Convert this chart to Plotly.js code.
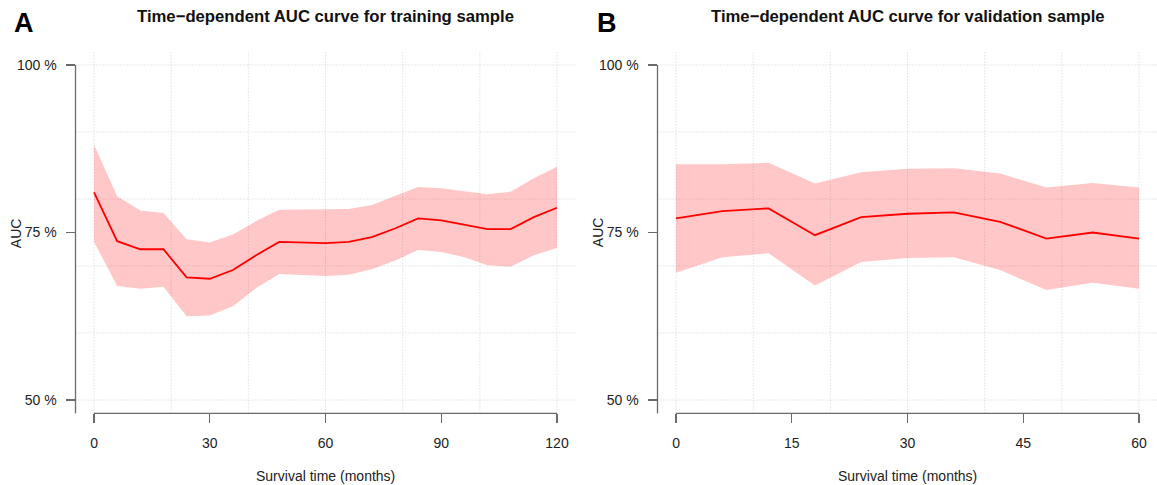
<!DOCTYPE html>
<html>
<head>
<meta charset="utf-8">
<script src="https://cdn.plot.ly/plotly-3.0.1.min.js"></script>
<style>html,body{margin:0;padding:0;background:#fff;}#chart{width:1157px;height:485px;}</style>
</head>
<body>
<div id="chart"></div>
<script>
// ---- data ----
const trainTime  = [0, 6, 12, 18, 24, 30, 36, 42, 48, 54, 60, 66, 72, 78, 84, 90, 96, 102, 108, 114, 120];
const trainAUC   = [81.0, 73.7, 72.5, 72.5, 68.3, 68.1, 69.4, 71.6, 73.6, 73.5, 73.4, 73.6, 74.3, 75.6, 77.1, 76.8, 76.2, 75.5, 75.5, 77.3, 78.7];
const trainUpper = [88.1, 80.4, 78.3, 77.9, 74.0, 73.5, 74.7, 76.7, 78.4, 78.4, 78.4, 78.5, 79.1, 80.5, 81.8, 81.6, 81.2, 80.7, 81.1, 83.1, 84.8];
const trainLower = [73.6, 67.0, 66.6, 66.9, 62.5, 62.6, 64.0, 66.7, 68.8, 68.6, 68.5, 68.7, 69.5, 70.8, 72.4, 72.1, 71.3, 70.1, 69.9, 71.6, 72.7];

const valTime  = [0, 6, 12, 18, 24, 30, 36, 42, 48, 54, 60];
const valAUC   = [77.1, 78.2, 78.6, 74.6, 77.3, 77.8, 78.0, 76.6, 74.1, 75.0, 74.1];
const valUpper = [85.2, 85.2, 85.4, 82.3, 84.0, 84.5, 84.6, 83.8, 81.7, 82.4, 81.7];
const valLower = [69.0, 71.3, 71.9, 67.1, 70.6, 71.2, 71.3, 69.4, 66.4, 67.5, 66.6];

const trainXTicks = [0, 30, 60, 90, 120];
const valXTicks   = [0, 15, 30, 45, 60];
const yTickVals   = [50, 75, 100];
const yTickText   = ['50 %', '75 %', '100 %'];
const trainXGrid  = [0, 20, 40, 60, 80, 100, 120];
const valXGrid    = [0, 10, 20, 30, 40, 50, 60];
const yGrid       = [50, 60, 70, 80, 90, 100];

const titles = ['Time\u2212dependent AUC curve for training sample',
                'Time\u2212dependent AUC curve for validation sample'];
const panelLetters = ['A', 'B'];
const xTitle = 'Survival time (months)';
const yTitle = 'AUC';

// ---- styling ----
const W = 1157, H = 485;
const FONT = 'Liberation Sans, Arial, Helvetica, sans-serif';
const BAND = 'rgba(255,0,0,0.22)';
const LINE = '#FF0000';
const AXC = '#6a6a6a';
const GRIDC = '#d3d3d3';
const TXT = '#222222';

const yRange = [48, 102];
const yDom = [1 - 413.4 / H, 1 - 51.6 / H];
const xDomA = [75.5 / W, 575.5 / W];
const xDomB = [657.5 / W, 1];

function bandTraces(x, lo, hi, mid, xa, ya) {
  return [
    {x: x, y: lo, xaxis: xa, yaxis: ya, type: 'scatter', mode: 'lines',
     line: {width: 0, color: BAND}, hoverinfo: 'skip', showlegend: false},
    {x: x, y: hi, xaxis: xa, yaxis: ya, type: 'scatter', mode: 'lines', fill: 'tonexty',
     fillcolor: BAND, line: {width: 0, color: BAND}, hoverinfo: 'skip', showlegend: false},
    {x: x, y: mid, xaxis: xa, yaxis: ya, type: 'scatter', mode: 'lines',
     line: {width: 1.8, color: LINE}, showlegend: false}
  ];
}

const data = [].concat(
  bandTraces(trainTime, trainLower, trainUpper, trainAUC, 'x', 'y'),
  bandTraces(valTime, valLower, valUpper, valAUC, 'x2', 'y2')
);

function xAxis(dom, range, ticks, anchor) {
  return {domain: dom, range: range, anchor: anchor, tickvals: ticks,
    ticks: 'outside', ticklen: 9, tickwidth: 1.3, tickcolor: AXC,
    ticklabelstandoff: 8,
    tickfont: {family: FONT, size: 14, color: TXT},
    showgrid: false, zeroline: false, showline: false, fixedrange: true};
}
function yAxis(anchor) {
  return {domain: yDom, range: yRange, anchor: anchor, tickvals: yTickVals, ticktext: yTickText,
    ticks: 'outside', ticklen: 9, tickwidth: 1.3, tickcolor: AXC,
    ticklabelstandoff: 6,
    tickfont: {family: FONT, size: 14, color: TXT},
    showgrid: false, zeroline: false, showline: false, fixedrange: true};
}

const xMaxB = -2.4 + (W - 657.5) / (463 / 60);

const shapes = [];
function addGrid(xa, ya, xg) {
  yGrid.forEach(v => shapes.push({type: 'line', layer: 'below', xref: xa + ' domain', yref: ya,
    x0: 0, x1: 1, y0: v, y1: v, line: {color: GRIDC, width: 1, dash: '1px,2px'}}));
  xg.forEach(v => shapes.push({type: 'line', layer: 'below', xref: xa, yref: ya + ' domain',
    x0: v, x1: v, y0: 0, y1: 1, line: {color: GRIDC, width: 1, dash: '1px,2px'}}));
}
function addAxisLines(xa, ya, xt) {
  shapes.push({type: 'line', layer: 'above', xref: xa, yref: ya + ' domain',
    x0: xt[0], x1: xt[xt.length - 1], y0: 0, y1: 0, line: {color: AXC, width: 1.3}});
  shapes.push({type: 'line', layer: 'above', xref: xa + ' domain', yref: ya,
    x0: 0, x1: 0, y0: yRange[0], y1: yTickVals[yTickVals.length - 1], line: {color: AXC, width: 1.3}});
}
addGrid('x', 'y', trainXGrid);
addGrid('x2', 'y2', valXGrid);
addAxisLines('x', 'y', trainXTicks);
addAxisLines('x2', 'y2', valXTicks);

const centers = [(xDomA[0] + xDomA[1]) / 2, (657.5 + 1157.5) / 2 / W];
const axisLeft = [xDomA[0], xDomB[0]];
const annotations = [];
for (let i = 0; i < 2; i++) {
  annotations.push({text: titles[i], xref: 'paper', yref: 'paper', x: centers[i], y: 1 - 16.7 / H,
    xanchor: 'center', yanchor: 'middle', showarrow: false,
    font: {family: FONT, size: 16.7, color: '#111', weight: 'bold'}});
  annotations.push({text: panelLetters[i], xref: 'paper', yref: 'paper',
    x: axisLeft[i] - 51 / W, y: 1 - 23 / H,
    xanchor: 'center', yanchor: 'middle', showarrow: false,
    font: {family: FONT, size: 27, color: '#000', weight: 'bold'}});
  annotations.push({text: xTitle, xref: 'paper', yref: 'paper', x: centers[i], y: 1 - 476 / H,
    xanchor: 'center', yanchor: 'middle', showarrow: false,
    font: {family: FONT, size: 14, color: TXT}});
  annotations.push({text: yTitle, xref: 'paper', yref: 'paper', x: axisLeft[i] - 60 / W, y: 1 - 232.7 / H,
    xanchor: 'center', yanchor: 'middle', showarrow: false, textangle: -90,
    font: {family: FONT, size: 14, color: TXT}});
}

const layout = {
  width: W, height: H,
  margin: {l: 0, r: 0, t: 0, b: 0, pad: 0},
  paper_bgcolor: '#ffffff', plot_bgcolor: '#ffffff',
  showlegend: false,
  xaxis: xAxis(xDomA, [-4.8, 124.8], trainXTicks, 'y'),
  yaxis: yAxis('x'),
  xaxis2: xAxis(xDomB, [-2.4, xMaxB], valXTicks, 'y2'),
  yaxis2: yAxis('x2'),
  shapes: shapes,
  annotations: annotations,
  font: {family: FONT}
};

Plotly.newPlot('chart', data, layout, {displayModeBar: false, staticPlot: true});
</script>
</body>
</html>
